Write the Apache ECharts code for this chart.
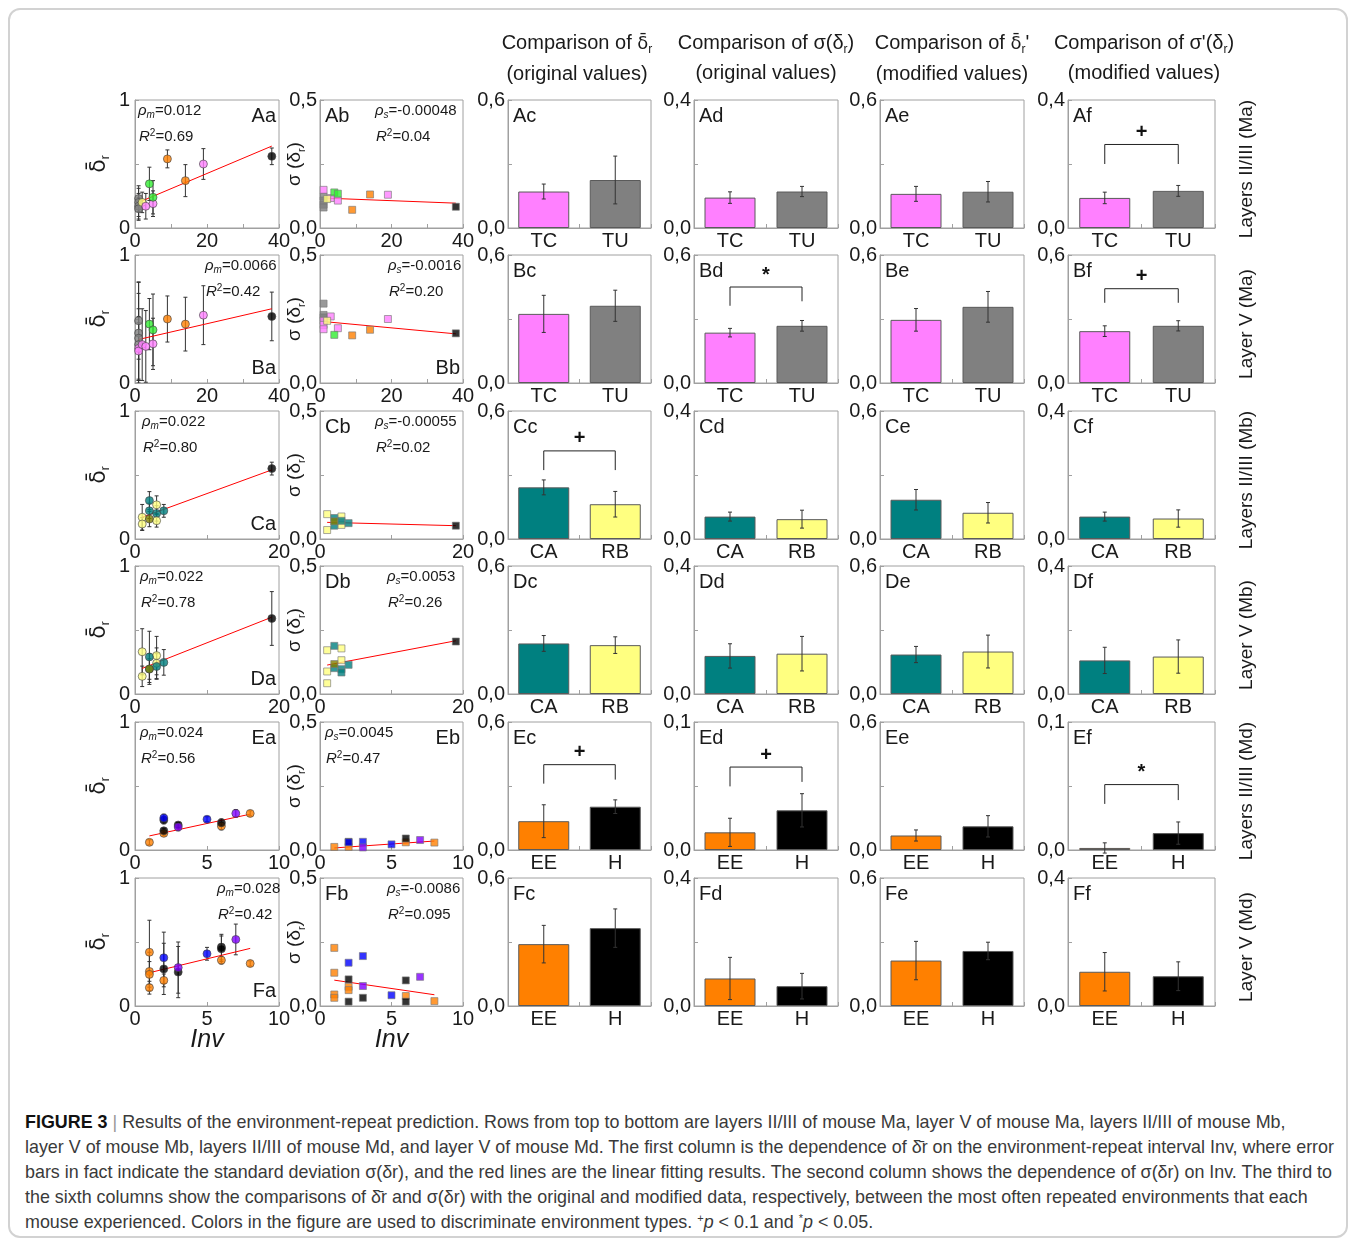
<!DOCTYPE html>
<html>
<head>
<meta charset="utf-8">
<script src="https://cdn.jsdelivr.net/npm/echarts@6.0.0/dist/echarts.min.js"></script>
<style>
body{margin:0;background:#fff;}
#wrap{position:relative;width:1356px;height:1244px;overflow:hidden;font-family:"Liberation Sans",Arial,sans-serif;}
#frame{position:absolute;left:8px;top:8px;width:1340px;height:1230px;border:2px solid #d2d2d2;border-radius:12px;box-sizing:border-box;}
#chart{position:absolute;left:0;top:0;width:1356px;height:1100px;}
.hdr{position:absolute;top:27px;width:260px;text-align:center;font-size:20px;line-height:30px;color:#1a1a1a;white-space:nowrap;}
.hdr sub{font-size:12px;line-height:0;vertical-align:-4px;}
.dj{font-family:"DejaVu Sans",sans-serif;font-size:18px;}
#cap{position:absolute;left:25px;top:1110px;font-size:17.9px;line-height:25px;color:#3a3a3a;white-space:nowrap;}
#cap sup{font-size:11px;line-height:0;vertical-align:6px;}
</style>
</head>
<body>
<div id="wrap">
  <div id="frame"></div>
  <div id="chart"></div>
  <div class="hdr" style="left:447px">Comparison of <span class="dj">δ̄</span><sub>r</sub><br>(original values)</div>
  <div class="hdr" style="left:636px">Comparison of σ(δ<sub>r</sub>)<br>(original values)</div>
  <div class="hdr" style="left:822px">Comparison of <span class="dj">δ̄</span><sub>r</sub>'<br>(modified values)</div>
  <div class="hdr" style="left:1014px">Comparison of σ'(δ<sub>r</sub>)<br>(modified values)</div>
  <div id="cap"><b style="color:#111">FIGURE 3</b> <span style="color:#999">|</span> Results of the environment-repeat prediction. Rows from top to bottom are layers II/III of mouse Ma, layer V of mouse Ma, layers II/III of mouse Mb,<br>layer V of mouse Mb, layers II/III of mouse Md, and layer V of mouse Md. The first column is the dependence of δ̄r on the environment-repeat interval Inv, where error<br>bars in fact indicate the standard deviation σ(δr), and the red lines are the linear fitting results. The second column shows the dependence of σ(δr) on Inv. The third to<br>the sixth columns show the comparisons of δ̄r and σ(δr) with the original and modified data, respectively, between the most often repeated environments that each<br>mouse experienced. Colors in the figure are used to discriminate environment types. <sup>+</sup><i>p</i> &lt; 0.1 and <sup>*</sup><i>p</i> &lt; 0.05.</div>
</div>
<script>
// ---------- data ----------
const rowNames = ['Layers II/III (Ma)', 'Layer V (Ma)', 'Layers II/III (Mb)', 'Layer V (Mb)', 'Layers II/III (Md)', 'Layer V (Md)'];
const rowCats = [['TC', 'TU'], ['TC', 'TU'], ['CA', 'RB'], ['CA', 'RB'], ['EE', 'H'], ['EE', 'H']];
const invMax = [40, 40, 20, 20, 10, 10];
const invStep = [10, 10, 10, 10, 5, 5];
const invLabels = [[0, 20, 40], [0, 20, 40], [0, 20], [0, 20], [0, 5, 10], [0, 5, 10]];

// column a: [Inv, mean delta_r, sd, environment]
const aaPts = [[1,0.23,0.10,'TU'],[1,0.20,0.11,'TU'],[1,0.17,0.10,'TU'],[1,0.15,0.09,'TU'],[2,0.20,0.08,'Y'],
  [3,0.17,0.10,'TC'],[5,0.19,0.10,'TC'],[19,0.50,0.12,'TC'],[4,0.345,0.13,'G'],[5,0.24,0.13,'G'],
  [9,0.54,0.07,'O'],[14,0.37,0.125,'O'],[38,0.56,0.065,'K']];
const baPts = [[1,0.486,0.30,'TU'],[1,0.39,0.40,'TU'],[1,0.35,0.35,'TU'],[1,0.30,0.28,'TU'],
  [1,0.27,0.25,'TC'],[1,0.25,0.22,'TC'],[2,0.30,0.28,'TC'],[3,0.286,0.28,'TC'],[5,0.306,0.20,'TC'],[19,0.53,0.23,'TC'],
  [4,0.46,0.20,'G'],[5,0.415,0.28,'G'],[9,0.50,0.18,'O'],[14,0.46,0.21,'O'],[38,0.52,0.19,'K']];
const caPts = [[2,0.30,0.07,'CA'],[2,0.22,0.06,'CA'],[3,0.20,0.06,'CA'],[4,0.22,0.05,'CA'],
  [1,0.17,0.10,'RB'],[1,0.117,0.05,'RB'],[3,0.267,0.07,'RB'],[3,0.143,0.05,'RB'],[2,0.156,0.06,'OL'],[19,0.55,0.05,'K']];
const daPts = [[1,0.33,0.18,'RB'],[1,0.138,0.08,'RB'],[3,0.30,0.15,'RB'],[3,0.24,0.12,'RB'],
  [2,0.29,0.20,'CA'],[2,0.195,0.12,'CA'],[3,0.215,0.10,'CA'],[4,0.247,0.10,'CA'],[2,0.195,0.08,'OL'],[19,0.59,0.21,'K']];
const eaPts = [[1,0.06,0.02,'EE'],[2,0.13,0.02,'EE'],[6,0.187,0.03,'EE'],[8,0.286,0.02,'EE'],
  [2,0.234,0.03,'H'],[2,0.15,0.02,'H'],[3,0.195,0.02,'H'],[6,0.213,0.03,'H'],
  [2,0.25,0.03,'B'],[5,0.24,0.02,'B'],[3,0.18,0.03,'P'],[7,0.286,0.03,'P']];
const faPts = [[1,0.42,0.25,'EE'],[1,0.27,0.15,'EE'],[1,0.247,0.10,'EE'],[1,0.143,0.05,'EE'],[2,0.20,0.05,'EE'],[6,0.358,0.03,'EE'],[8,0.332,0.02,'EE'],
  [2,0.29,0.20,'H'],[3,0.265,0.20,'H'],[6,0.46,0.10,'H'],[6,0.447,0.10,'H'],
  [2,0.377,0.20,'B'],[5,0.408,0.05,'B'],[3,0.30,0.20,'P'],[7,0.52,0.12,'P']];
const aFits = [[[1,0.20],[38,0.64]], [[1,0.34],[38,0.58]], [[1,0.17],[19,0.54]], [[1,0.20],[19,0.60]], [[1,0.11],[8,0.28]], [[1,0.26],[8,0.45]]];
const aStats = [['m','0.012','0.69'],['m','0.0066','0.42'],['m','0.022','0.80'],['m','0.022','0.78'],['m','0.024','0.56'],['m','0.028','0.42']];

// column b: [Inv, sd of delta_r, environment]
const abPts = [[1,0.123,'TU'],[1,0.107,'TU'],[1,0.091,'TU'],[1,0.08,'TU'],[1,0.149,'TC'],[3,0.117,'TC'],[5,0.107,'TC'],[19,0.13,'TC'],
  [2,0.113,'Y'],[4,0.139,'G'],[5,0.134,'G'],[9,0.071,'O'],[14,0.131,'O'],[38,0.083,'K']];
const bbPts = [[1,0.31,'TU'],[1,0.266,'TU'],[1,0.256,'TU'],[1,0.243,'TC'],[1,0.227,'TC'],[1,0.21,'TC'],[3,0.26,'TC'],[5,0.214,'TC'],[19,0.25,'TC'],
  [2,0.243,'Y'],[4,0.188,'G'],[9,0.186,'O'],[14,0.208,'O'],[38,0.194,'K']];
const cbPts = [[1,0.097,'RB'],[1,0.035,'RB'],[3,0.088,'RB'],[3,0.055,'RB'],[2,0.082,'CA'],[2,0.052,'CA'],[3,0.071,'CA'],[4,0.062,'CA'],[2,0.069,'OL'],[19,0.052,'K']];
const dbPts = [[1,0.171,'RB'],[1,0.088,'RB'],[1,0.042,'RB'],[3,0.178,'RB'],[3,0.132,'RB'],[2,0.188,'CA'],[2,0.101,'CA'],[3,0.097,'CA'],[3,0.084,'CA'],[4,0.114,'CA'],[2,0.117,'OL'],[19,0.205,'K']];
const ebPts = [[1,0.012,'EE'],[2,0.012,'EE'],[6,0.03,'EE'],[8,0.029,'EE'],[2,0.032,'H'],[6,0.045,'H'],[2,0.03,'B'],[3,0.032,'B'],[5,0.022,'B'],[3,0.01,'P'],[7,0.039,'P']];
const fbPts = [[1,0.227,'EE'],[1,0.13,'EE'],[1,0.045,'EE'],[1,0.032,'EE'],[2,0.075,'EE'],[2,0.062,'EE'],[6,0.039,'EE'],[8,0.019,'EE'],
  [2,0.104,'H'],[2,0.017,'H'],[3,0.032,'H'],[6,0.1,'H'],[6,0.017,'H'],[2,0.169,'B'],[3,0.195,'B'],[5,0.042,'B'],[3,0.078,'P'],[7,0.114,'P']];
const bFits = [[[1,0.117],[38,0.097]], [[1,0.24],[38,0.192]], [[1,0.065],[19,0.052]], [[1,0.113],[19,0.208]], [[1,0.008],[8,0.035]], [[1,0.101],[8,0.044]]];
const bStats = [['s','-0.00048','0.04'],['s','-0.0016','0.20'],['s','-0.00055','0.02'],['s','0.0053','0.26'],['s','0.0045','0.47'],['s','-0.0086','0.095']];

// columns c-f: bar means, error bars, axis max (one entry per row)
const meanC = [[0.171,0.225],[0.324,0.362],[0.242,0.163],[0.237,0.229],[0.135,0.203],[0.29,0.365]];
const errC  = [[0.035,0.112],[0.087,0.073],[0.035,0.06],[0.037,0.039],[0.077,0.032],[0.088,0.09]];
const maxC  = [0.6,0.6,0.6,0.6,0.6,0.6];
const meanD = [[0.095,0.114],[0.236,0.268],[0.07,0.062],[0.119,0.126],[0.0138,0.031],[0.086,0.062]];
const errD  = [[0.018,0.016],[0.02,0.025],[0.014,0.028],[0.038,0.054],[0.011,0.013],[0.066,0.04]];
const maxD  = [0.4,0.6,0.4,0.4,0.1,0.4];
const meanE = [[0.16,0.17],[0.296,0.357],[0.184,0.123],[0.185,0.199],[0.068,0.111],[0.213,0.258]];
const errE  = [[0.035,0.048],[0.053,0.072],[0.048,0.048],[0.038,0.077],[0.026,0.05],[0.09,0.041]];
const maxE  = [0.6,0.6,0.6,0.6,0.6,0.6];
const meanF = [[0.094,0.116],[0.243,0.268],[0.07,0.064],[0.105,0.117],[0.0016,0.0132],[0.107,0.093]];
const errF  = [[0.018,0.017],[0.025,0.024],[0.014,0.027],[0.041,0.052],[0.004,0.0087],[0.06,0.045]];
const maxF  = [0.4,0.6,0.4,0.4,0.1,0.4];

// significance: [panel, mark, bracket level, left leg end, right leg end]
const sigMarks = [['Af','+',0.261,0.2,0.2], ['Bd','*',0.45,0.362,0.383], ['Bf','+',0.442,0.376,0.376],
  ['Cc','+',0.413,0.323,0.323], ['Ec','+',0.40,0.311,0.33], ['Ed','+',0.0648,0.0497,0.0532], ['Ef','*',0.0511,0.036,0.039]];

// ---------- layout / style ----------
const colX = [135, 320, 508, 694, 880, 1068];
const colW = [144, 143, 143, 144, 144, 147];
const rowY = [100, 255, 411, 566, 722, 878];
const rowH = 128;
const labelPosA = ['tr','br','br','br','tr','br'];
const labelPosB = ['tl','br','tl','tl','tr','tl'];
const statXA = [3, 70, 7, 5, 5, 82];
const statXB = [55, 68, 55, 67, 5, 67];
const envColor = {TC:'#ff80ff', TU:'#808080', G:'#33ee33', O:'#ff8000', K:'#000000', Y:'#ffff80',
  CA:'#008080', RB:'#ffff80', OL:'#808000', EE:'#ff8000', H:'#000000', B:'#0000ff', P:'#8000ff'};
const axisColor = '#a0a0a0';
const font = '"Liberation Sans", Arial, sans-serif';
const txt = '#1a1a1a';

const grids = [], xAxes = [], yAxes = [], series = [], graphics = [];

function addGrid(c, r) {
  grids.push({left: colX[c], top: rowY[r], width: colW[c], height: rowH, show: true,
    borderColor: axisColor, borderWidth: 1, backgroundColor: 'transparent'});
  return grids.length - 1;
}
function axisBase(g) {
  return {gridIndex: g, axisLine: {show: true, lineStyle: {color: axisColor}},
    axisTick: {show: true, inside: true, length: 4, lineStyle: {color: axisColor}},
    splitLine: {show: false}, nameMoveOverlap: false};
}
function lbl(extra) {
  return Object.assign({color: txt, fontSize: 20, fontFamily: font, showMinLabel: true, showMaxLabel: true}, extra);
}
function comma(v) { return v.toFixed(1).replace('.', ','); }

function errBar(params, api) {
  const x = api.value(0), y = api.value(1), e = api.value(2);
  const t = api.coord([x, y + e]), b = api.coord([x, y - e]);
  const st = {stroke: '#333', lineWidth: 1};
  return {type: 'group', children: [
    {type: 'line', shape: {x1: t[0], y1: t[1], x2: b[0], y2: b[1]}, style: st},
    {type: 'line', shape: {x1: t[0] - 2, y1: t[1], x2: t[0] + 2, y2: t[1]}, style: st},
    {type: 'line', shape: {x1: b[0] - 2, y1: b[1], x2: b[0] + 2, y2: b[1]}, style: st}
  ]};
}

function panelLabel(text, c, r, pos) {
  const x0 = colX[c], y0 = rowY[r], w = colW[c];
  let x = x0 + 5, y = y0 + 6, align = 'left', va = 'top';
  if (pos === 'tr') { x = x0 + w - 3; align = 'right'; }
  if (pos === 'br') { x = x0 + w - 3; y = y0 + rowH - 5; align = 'right'; va = 'bottom'; }
  graphics.push({type: 'text', x: x, y: y, z: 10,
    style: {text: text, fontSize: 20, fontFamily: font, fill: txt, align: align, verticalAlign: va}});
}

function statText(c, r, off, st) {
  const rich = {
    i: {fontStyle: 'italic', fontSize: 15, fontFamily: font, fill: txt, lineHeight: 18},
    sub: {fontStyle: 'italic', fontSize: 10, fontFamily: font, fill: txt, verticalAlign: 'bottom', lineHeight: 10},
    sup: {fontSize: 10, fontFamily: font, fill: txt, verticalAlign: 'top', lineHeight: 10},
    t: {fontSize: 15, fontFamily: font, fill: txt, lineHeight: 18}
  };
  const x = colX[c] + off;
  graphics.push({type: 'text', x: x, y: rowY[r] + 11, z: 10,
    style: {text: '{i|ρ}{sub|' + st[0] + '}{t|=' + st[1] + '}', rich: rich, align: 'left', verticalAlign: 'middle'}});
  graphics.push({type: 'text', x: x + 1, y: rowY[r] + 37, z: 10,
    style: {text: '{i|R}{sup|2}{t|=' + st[2] + '}', rich: rich, align: 'left', verticalAlign: 'middle'}});
}

const rowsA = [aaPts, baPts, caPts, daPts, eaPts, faPts];
const rowsB = [abPts, bbPts, cbPts, dbPts, ebPts, fbPts];
const letters = 'ABCDEF';

for (let r = 0; r < 6; r++) {
  const labs = invLabels[r];
  const xFmt = v => labs.indexOf(v) >= 0 ? String(v) : '';

  // column a
  let g = addGrid(0, r);
  xAxes.push(Object.assign(axisBase(g), {type: 'value', min: 0, max: invMax[r], interval: invStep[r],
    axisLabel: lbl({formatter: xFmt, margin: 3}),
    name: r === 5 ? 'Inv' : '', nameLocation: 'middle', nameGap: 22,
    nameTextStyle: {fontSize: 25, fontStyle: 'italic', fontFamily: font, color: txt}}));
  yAxes.push(Object.assign(axisBase(g), {type: 'value', min: 0, max: 1, interval: 0.5,
    axisLabel: lbl({formatter: v => v === 0 ? '0' : (Math.abs(v - 1) < 1e-9 ? '1' : ''), margin: 5}),
    name: '{d|δ̄}{s|r}', nameLocation: 'middle', nameRotate: 90, nameGap: 23,
    nameTextStyle: {rich: {
      d: {fontSize: 22, fontFamily: '"DejaVu Sans", sans-serif', color: txt, lineHeight: 26},
      s: {fontSize: 12, fontFamily: font, color: txt, verticalAlign: 'bottom', lineHeight: 12}}}}));
  series.push({type: 'custom', xAxisIndex: g, yAxisIndex: g, renderItem: errBar, clip: true, z: 2,
    data: rowsA[r].map(p => [p[0], p[1], p[2]])});
  series.push({type: 'line', xAxisIndex: g, yAxisIndex: g, data: aFits[r], symbol: 'none', z: 3,
    lineStyle: {color: '#ff0000', width: 1}});
  series.push({type: 'scatter', xAxisIndex: g, yAxisIndex: g, symbol: 'circle', symbolSize: 8, z: 4,
    itemStyle: {borderColor: '#444', borderWidth: 0.8},
    data: rowsA[r].map(p => ({value: [p[0], p[1]], itemStyle: {color: envColor[p[3]]}}))});
  panelLabel(letters[r] + 'a', 0, r, labelPosA[r]);
  statText(0, r, statXA[r], aStats[r]);

  // column b
  g = addGrid(1, r);
  xAxes.push(Object.assign(axisBase(g), {type: 'value', min: 0, max: invMax[r], interval: invStep[r],
    axisLabel: lbl({formatter: xFmt, margin: 3}),
    name: r === 5 ? 'Inv' : '', nameLocation: 'middle', nameGap: 22,
    nameTextStyle: {fontSize: 25, fontStyle: 'italic', fontFamily: font, color: txt}}));
  yAxes.push(Object.assign(axisBase(g), {type: 'value', min: 0, max: 0.5, interval: 0.25,
    axisLabel: lbl({formatter: v => (v === 0 || Math.abs(v - 0.5) < 1e-9) ? comma(v) : '', margin: 3}),
    name: '{n|σ (δ}{s|r}{n|)}', nameLocation: 'middle', nameRotate: 90, nameGap: 13,
    nameTextStyle: {rich: {
      n: {fontSize: 19, fontFamily: font, color: txt, lineHeight: 24},
      s: {fontSize: 11, fontFamily: font, color: txt, verticalAlign: 'bottom', lineHeight: 11}}}}));
  series.push({type: 'line', xAxisIndex: g, yAxisIndex: g, data: bFits[r], symbol: 'none', z: 3,
    lineStyle: {color: '#ff0000', width: 1}});
  series.push({type: 'scatter', xAxisIndex: g, yAxisIndex: g, symbol: 'rect', symbolSize: 7, z: 4,
    itemStyle: {borderColor: '#777', borderWidth: 0.8},
    data: rowsB[r].map(p => ({value: [p[0], p[1]], itemStyle: {color: envColor[p[2]]}}))});
  panelLabel(letters[r] + 'b', 1, r, labelPosB[r]);
  statText(1, r, statXB[r], bStats[r]);

  // columns c-f
  const barCols = [[meanC, errC, maxC], [meanD, errD, maxD], [meanE, errE, maxE], [meanF, errF, maxF]];
  barCols.forEach((bc, k) => {
    const c = k + 2;
    const means = bc[0][r], errs = bc[1][r], mx = bc[2][r];
    const cats = rowCats[r];
    const gi = addGrid(c, r);
    xAxes.push(Object.assign(axisBase(gi), {type: 'category', data: cats,
      axisLabel: lbl({margin: 3})}));
    yAxes.push(Object.assign(axisBase(gi), {type: 'value', min: 0, max: mx, interval: mx / 2,
      axisLabel: lbl({formatter: v => (v === 0 || Math.abs(v - mx) < 1e-9) ? comma(v) : '', margin: 3})}));
    series.push({type: 'bar', xAxisIndex: gi, yAxisIndex: gi, barWidth: 51, z: 2,
      itemStyle: {borderColor: '#5a5a5a', borderWidth: 1},
      data: means.map((v, i) => ({value: v, itemStyle: {color: envColor[cats[i]]}}))});
    series.push({type: 'custom', xAxisIndex: gi, yAxisIndex: gi, renderItem: errBar, z: 5,
      data: means.map((v, i) => [i, v, errs[i]])});
    const id = letters[r] + 'cdef'[k];
    panelLabel(id, c, r, 'tl');
    sigMarks.filter(s => s[0] === id).forEach(s => {
      series.push({type: 'custom', xAxisIndex: gi, yAxisIndex: gi, z: 6, data: [[s[2], s[3], s[4]]],
        renderItem: function (params, api) {
          const p0 = api.coord([0, api.value(1)]), p1 = api.coord([0, api.value(0)]);
          const p2 = api.coord([1, api.value(0)]), p3 = api.coord([1, api.value(2)]);
          return {type: 'group', children: [
            {type: 'polyline', shape: {points: [p0, p1, p2, p3]}, style: {stroke: '#222', lineWidth: 1, fill: null}},
            {type: 'text', x: (p1[0] + p2[0]) / 2, y: p1[1] - 12,
              style: {text: s[1], fontSize: 20, fontWeight: 'bold', fontFamily: font, fill: '#111', align: 'center', verticalAlign: 'middle'}}
          ]};
        }});
    });
  });

  graphics.push({type: 'text', x: 1247, y: rowY[r] + 69, rotation: Math.PI / 2, z: 10,
    style: {text: rowNames[r], fontSize: 19, fontFamily: font, fill: txt, align: 'center', verticalAlign: 'middle'}});
}

const chart = echarts.init(document.getElementById('chart'));
chart.setOption({
  animation: false,
  backgroundColor: 'transparent',
  grid: grids,
  xAxis: xAxes,
  yAxis: yAxes,
  series: series,
  graphic: {elements: graphics}
});
</script>
</body>
</html>
